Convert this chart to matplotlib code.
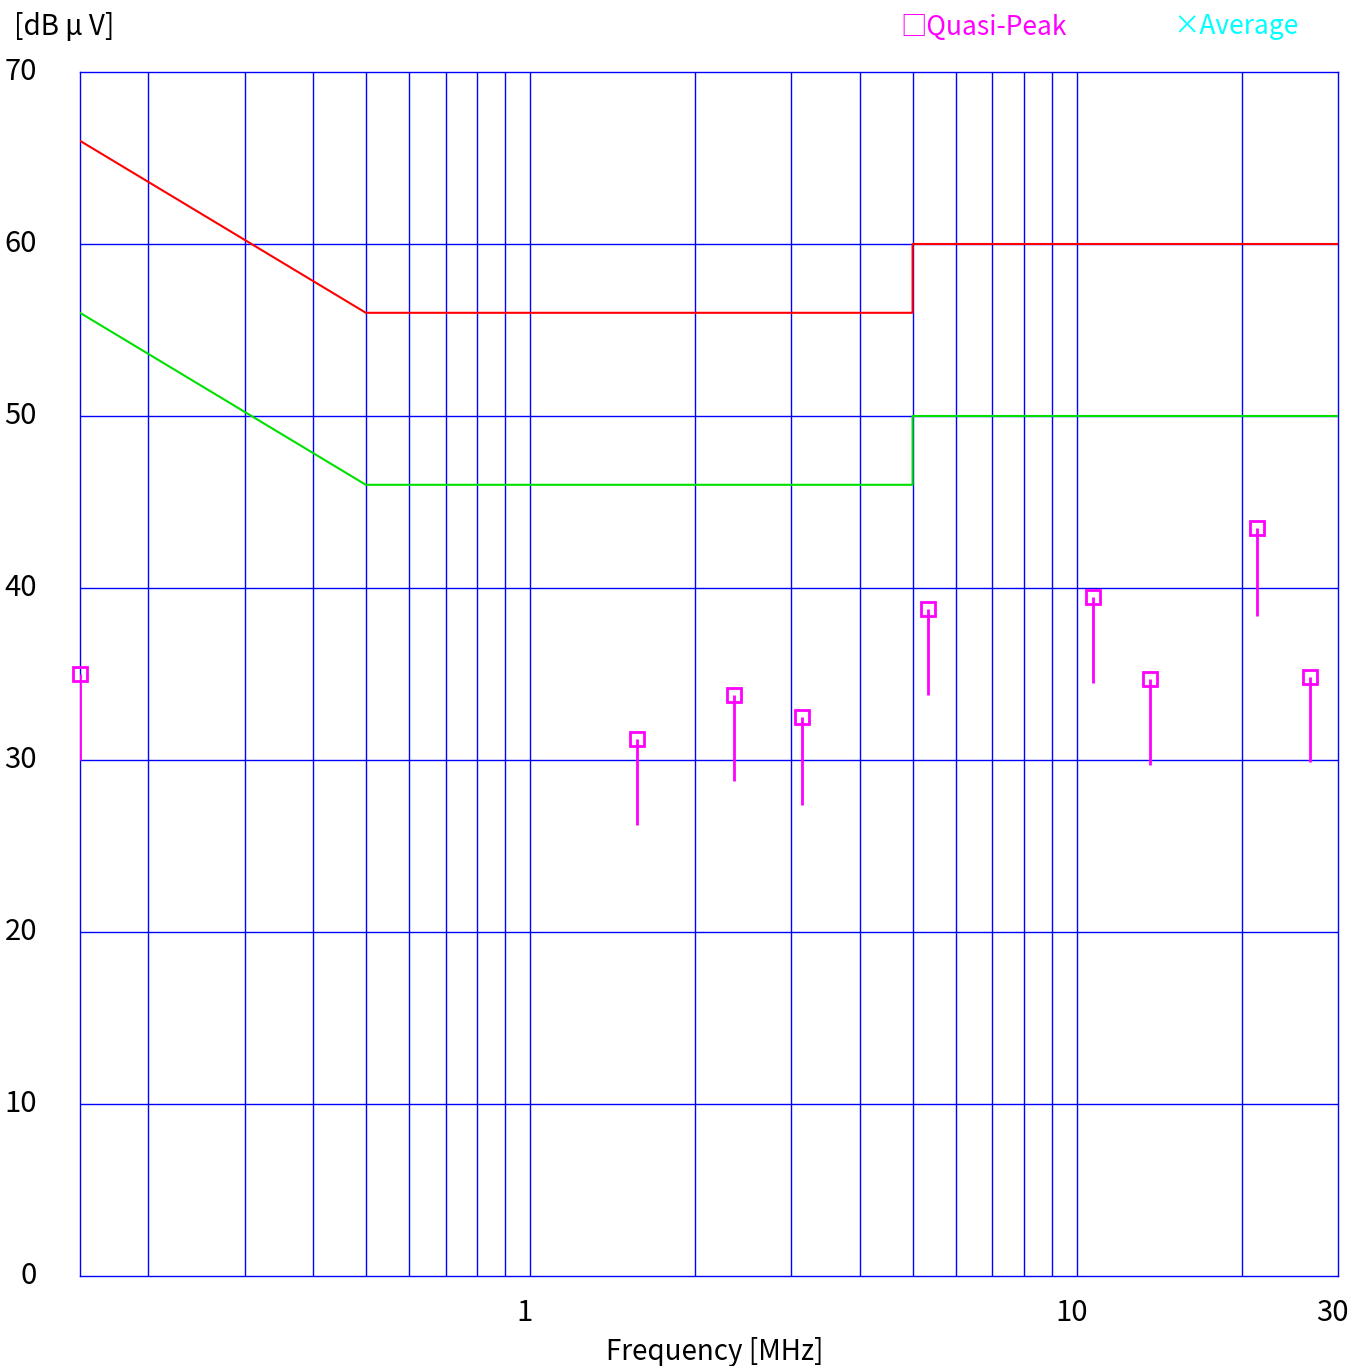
import numpy as np
import matplotlib
matplotlib.use("Agg")
import matplotlib.pyplot as plt
from matplotlib.transforms import ScaledTranslation

plt.rcParams['font.family'] = ['Noto Sans CJK JP', 'DejaVu Sans']

# limit lines (MHz, dBuV)
qp_lim_f = [0.15, 0.5, 5.0, 5.0, 30.0]
qp_lim_v = [66, 56, 56, 60, 60]
av_lim_f = [0.15, 0.5, 5.0, 5.0, 30.0]
av_lim_v = [56, 46, 46, 50, 50]

# measured quasi-peak points and the bottom of each stick
meas_f = [0.15, 1.566, 2.357, 3.14, 5.335, 10.69, 13.6, 21.3, 26.7]
meas_qp = [35.0, 31.2, 33.8, 32.5, 38.8, 39.5, 34.7, 43.5, 34.8]
meas_low = [30.0, 26.2, 28.8, 27.4, 33.8, 34.5, 29.7, 38.4, 29.9]

grid_f = [0.2, 0.3, 0.4, 0.5, 0.6, 0.7, 0.8, 0.9, 1, 2, 3, 4, 5, 6, 7, 8, 9, 10, 20]
x_ticks = [1, 10, 30]
y_ticks = [0, 10, 20, 30, 40, 50, 60, 70]

fig = plt.figure(figsize=(13.51, 13.66), dpi=100)
ax = fig.add_axes([80 / 1351, 90 / 1366, 1258 / 1351, 1204 / 1366])
ax.set_xscale('log')
ax.set_xlim(0.15, 30)
ax.set_ylim(0, 70)

blue = '#0000ff'
for f in grid_f:
    ax.axvline(f, color=blue, lw=1, zorder=1)
for v in y_ticks[1:-1]:
    ax.axhline(v, color=blue, lw=1, zorder=1)
for s in ax.spines.values():
    s.set_color(blue)
    s.set_linewidth(1)

ax.plot(qp_lim_f, qp_lim_v, color='#ff0000', lw=1.5, zorder=3)
ax.plot(av_lim_f, av_lim_v, color='#00e000', lw=1.5, zorder=3)

ax.vlines(meas_f, meas_low, meas_qp, color='#ff00ff', lw=2, zorder=4)
ax.plot(meas_f, meas_qp, 's', ms=10, mfc='none', mec='#ff00ff', mew=2,
        ls='none', zorder=5, clip_on=False)

ax.set_xticks(x_ticks)
ax.set_xticklabels([str(t) for t in x_ticks])
ax.xaxis.set_minor_locator(matplotlib.ticker.NullLocator())
ax.set_yticks(y_ticks)
ax.set_yticklabels([str(t) for t in y_ticks])
ax.tick_params(length=0, labelsize=21)
ax.tick_params(axis='x', pad=16)
ax.tick_params(axis='y', pad=31)
for lab in ax.get_xticklabels():
    lab.set_transform(lab.get_transform() + ScaledTranslation(-0.06, 0, fig.dpi_scale_trans))
for lab in ax.get_yticklabels():
    lab.set_transform(lab.get_transform() + ScaledTranslation(0, 0.04, fig.dpi_scale_trans))

fig.text(715 / 1351, 1 - 1352 / 1366, 'Frequency [MHz]', ha='center', va='center', fontsize=20)
fig.text(14 / 1351, 1 - 27 / 1366, '[dB μ V]', ha='left', va='center', fontsize=20)
fig.text(900 / 1351, 1 - 27 / 1366, '□Quasi-Peak', ha='left', va='center',
         fontsize=19, color='#ff00ff', family=['Noto Sans CJK JP', 'DejaVu Sans'])
fig.text(1173 / 1351, 1 - 27 / 1366, '×Average', ha='left', va='center',
         fontsize=19, color='#00ffff', family=['Noto Sans CJK JP', 'DejaVu Sans'])

fig.savefig('out.png', dpi=100)
